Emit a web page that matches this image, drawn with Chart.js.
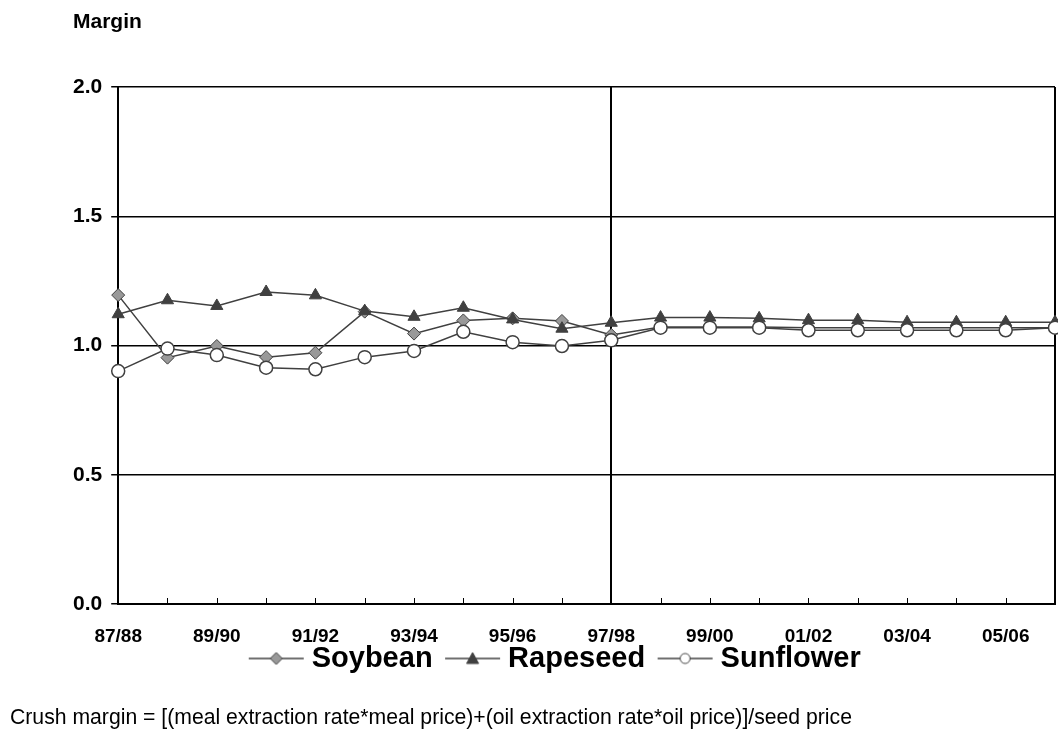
<!DOCTYPE html>
<html>
<head>
<meta charset="utf-8">
<script src="https://cdn.jsdelivr.net/npm/chart.js@4.4.0/dist/chart.umd.min.js"></script>
<style>
body{margin:0;background:#fff;}
#divid{width:1058px;height:737px;}
</style>
</head>
<body>
<div id="divid"><canvas id="chart"></canvas></div>
<script>
const categorias=['87/88','88/89','89/90','90/91','91/92','92/93','93/94','94/95','95/96','96/97','97/98','98/99','99/00','00/01','01/02','02/03','03/04','04/05','05/06','06/07']
const soybean=[1.195,0.953,0.998,0.955,0.972,1.131,1.046,1.097,1.105,1.095,1.041,1.072,1.072,1.072,1.069,1.069,1.069,1.069,1.069,1.069]
const rapeseed=[1.121,1.175,1.153,1.207,1.194,1.133,1.111,1.146,1.101,1.065,1.088,1.108,1.108,1.105,1.098,1.098,1.090,1.090,1.090,1.090]
const sunflower=[0.901,0.988,0.963,0.914,0.908,0.955,0.979,1.053,1.013,0.998,1.020,1.069,1.069,1.069,1.059,1.059,1.059,1.059,1.059,1.069]
const yticks=[0,0.5,1.0,1.5,2.0]
const separador='97/98'

const fuente="'Liberation Sans', Arial, sans-serif"
const gris='#404040'

// icono de leyenda: linea + marcador, con margen a la izquierda para ajustar huecos
legendIcon=(tipo)=>{
    var c=document.createElement('canvas')
    c.width=76
    c.height=20
    var ctx=c.getContext('2d')
    var cx=47.5
    ctx.strokeStyle=gris
    ctx.lineWidth=1.5
    ctx.beginPath()
    ctx.moveTo(20,10)
    ctx.lineTo(75,10)
    ctx.stroke()
    ctx.lineWidth=1
    ctx.beginPath()
    if(tipo=='diamond'){
        ctx.moveTo(cx,4);ctx.lineTo(cx+6,10);ctx.lineTo(cx,16);ctx.lineTo(cx-6,10);ctx.closePath()
        ctx.fillStyle='#999999'
    }else if(tipo=='triangle'){
        ctx.moveTo(cx,4);ctx.lineTo(cx+6,15);ctx.lineTo(cx-6,15);ctx.closePath()
        ctx.fillStyle=gris
    }else{
        ctx.arc(cx,10,5,0,Math.PI*2)
        ctx.fillStyle='#ffffff'
    }
    ctx.fill()
    ctx.stroke()
    return c
}
const iconos=[legendIcon('diamond'),legendIcon('triangle'),legendIcon('circle')]

const textos={
    id:'textos',
    afterDraw:(chart)=>{
        var ctx=chart.ctx
        ctx.save()
        ctx.fillStyle='#000'
        ctx.textBaseline='middle'
        ctx.font='bold 21px '+fuente
        ctx.fillText('Margin',73,22)
        ctx.font='21.2px '+fuente
        ctx.fillText('Crush margin = [(meal extraction rate*meal price)+(oil extraction rate*oil price)]/seed price',10,718)
        // ticks hacia dentro en el eje x
        var x=chart.scales.x
        var y0=chart.chartArea.bottom
        ctx.strokeStyle='#000'
        ctx.lineWidth=1
        categorias.forEach((c,i)=>{
            var px=Math.round(x.getPixelForValue(i))+0.5
            ctx.beginPath()
            ctx.moveTo(px,y0)
            ctx.lineTo(px,y0-6)
            ctx.stroke()
        })
        ctx.restore()
    }
}

drawChart=()=>{
    var ctx=document.getElementById('chart').getContext('2d')
    var idxSep=categorias.indexOf(separador)
    var myChart=new Chart(ctx,{
        type:'line',
        data:{
            labels:categorias,
            datasets:[{
                label:'Soybean',
                data:soybean,
                borderColor:gris,
                borderWidth:1.5,
                pointStyle:'rectRot',
                pointRadius:6.5,
                pointBackgroundColor:'#999999',
                pointBorderColor:gris,
                pointBorderWidth:1,
                order:2
            },{
                label:'Rapeseed',
                data:rapeseed,
                borderColor:gris,
                borderWidth:1.5,
                pointStyle:'triangle',
                pointRadius:7,
                pointBackgroundColor:gris,
                pointBorderColor:gris,
                pointBorderWidth:1,
                order:1
            },{
                label:'Sunflower',
                data:sunflower,
                borderColor:gris,
                borderWidth:1.5,
                pointStyle:'circle',
                pointRadius:6.5,
                pointBackgroundColor:'#ffffff',
                pointBorderColor:gris,
                pointBorderWidth:1.5,
                order:0
            }]
        },
        options:{
            responsive:true,
            maintainAspectRatio:false,
            animation:false,
            layout:{autoPadding:false,padding:{top:87,left:42,right:3,bottom:54}},
            plugins:{
                tooltip:{enabled:false},
                legend:{
                    position:'bottom',
                    labels:{
                        usePointStyle:true,
                        pointStyleWidth:61,
                        padding:0,
                        color:'#000',
                        font:{family:fuente,size:29,weight:'bold'},
                        generateLabels:(chart)=>{
                            var items=Chart.defaults.plugins.legend.labels.generateLabels(chart)
                            items.sort((a,b)=>a.datasetIndex-b.datasetIndex)
                            items.forEach(it=>{it.pointStyle=iconos[it.datasetIndex]})
                            return items
                        }
                    }
                }
            },
            scales:{
                x:{
                    offset:false,
                    border:{color:'#000',width:2},
                    grid:{
                        drawTicks:false,
                        color:(c)=>(c.index==idxSep||c.index==categorias.length-1)?'#000':'rgba(0,0,0,0)',
                        lineWidth:2
                    },
                    afterFit:(s)=>{
                        s.paddingRight=0
                        s.height=40
                    },
                    ticks:{
                        autoSkip:false,
                        maxRotation:0,
                        padding:21,
                        color:'#000',
                        font:{family:fuente,size:19,weight:'bold'},
                        callback:(v,i)=>i%2==0?categorias[i]:''
                    }
                },
                y:{
                    min:yticks[0],
                    max:yticks[yticks.length-1],
                    border:{color:'#000',width:2},
                    grid:{color:'#000',lineWidth:1.5,drawTicks:true,tickLength:7,tickColor:'#000'},
                    afterBuildTicks:(s)=>{s.ticks=yticks.map(v=>({value:v}))},
                    afterFit:(s)=>{s.width+=22},
                    ticks:{
                        padding:9,
                        color:'#000',
                        font:{family:fuente,size:21,weight:'bold'},
                        callback:(v)=>v.toFixed(1)
                    }
                }
            }
        },
        plugins:[textos]
    })
}

drawChart()
</script>
</body>
</html>
